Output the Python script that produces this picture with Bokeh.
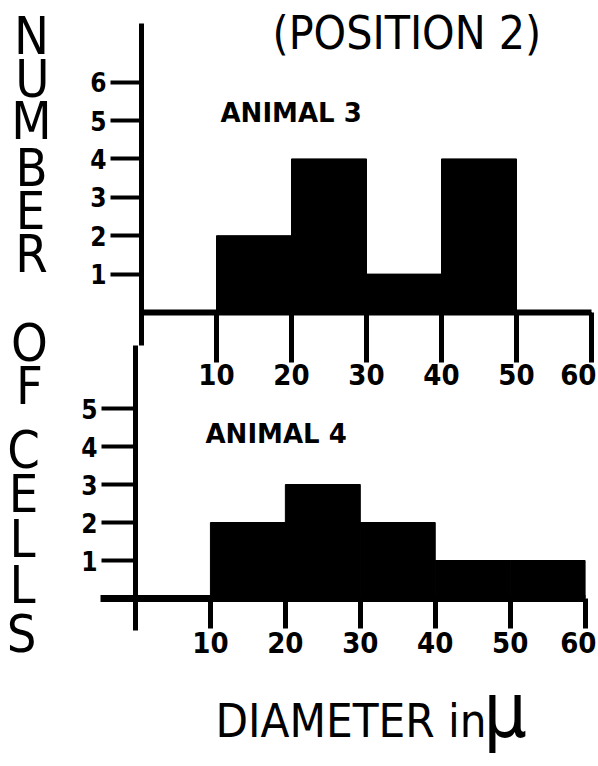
from bokeh.plotting import figure
from bokeh.models import Range1d, LinearAxis, FixedTicker, Label
from bokeh.embed import file_html
from bokeh.resources import INLINE

# ---------------- data ----------------
bin_left = [10, 20, 30, 40, 50]
bin_right = [20, 30, 40, 50, 60]
animal3_counts = [2, 4, 1, 4, 0]
animal4_counts = [2, 3, 2, 1, 1]
x_ticks = [10, 20, 30, 40, 50, 60]
top_y_ticks = [1, 2, 3, 4, 5, 6]
bottom_y_ticks = [1, 2, 3, 4, 5]
title_text = "(POSITION 2)"
panel_titles = ["ANIMAL 3", "ANIMAL 4"]
y_title_letters = list("NUMBER") + list("OF") + list("CELLS")
x_title_main = "DIAMETER in"
x_title_unit = "\u03bc"

# ---------------- layout ----------------
W, H = 596, 764

COND = "'DejaVu Sans Condensed', 'DejaVu Sans', sans-serif"
BOLDF = "'DejaVu Sans', sans-serif"
BASE_K = 0.38  # empirical shift of the rendered baseline (in em)


def make_range(zero_px, px_per_unit, size, flip=False):
    if flip:
        start = -(size - zero_px) / px_per_unit
    else:
        start = -zero_px / px_per_unit
    return Range1d(start, start + size / px_per_unit)


p = figure(width=W, height=H, x_range=Range1d(0, W), y_range=Range1d(H, 0),
           toolbar_location=None, output_backend="svg",
           x_axis_location=None, y_axis_location=None, min_border=0,
           outline_line_color=None, background_fill_color="white",
           border_fill_color="white")
p.grid.grid_line_color = None

p.extra_x_ranges = {
    "tx": make_range(141, 7.5, W),
    "bx": make_range(135, 7.493, W),
}
p.extra_y_ranges = {
    "ty": make_range(312, 38.4, H, flip=True),
    "by": make_range(598, 38.0, H, flip=True),
}

# ---------------- bars ----------------
p.quad(left=bin_left, right=bin_right, top=animal3_counts, bottom=0,
       x_range_name="tx", y_range_name="ty",
       fill_color="black", line_color="black", line_width=1)
p.quad(left=bin_left, right=bin_right, top=animal4_counts, bottom=0,
       x_range_name="bx", y_range_name="by",
       fill_color="black", line_color="black", line_width=1)


def style_axis(ax, tick_out, line_w, tick_w, font, size, standoff):
    ax.major_tick_out = tick_out
    ax.major_tick_in = 0
    ax.minor_tick_out = 0
    ax.minor_tick_in = 0
    ax.axis_line_width = line_w
    ax.axis_line_color = "black"
    ax.major_tick_line_width = tick_w
    ax.major_tick_line_color = "black"
    ax.major_label_text_font = font
    ax.major_label_text_font_size = size
    ax.major_label_text_font_style = "bold"
    ax.major_label_text_color = "black"
    ax.major_label_standoff = standoff


# top panel axes
tx_axis = LinearAxis(x_range_name="tx", y_range_name="ty", fixed_location=0,
                     bounds=(0, 60), ticker=FixedTicker(ticks=x_ticks))
style_axis(tx_axis, 50, 6, 5, COND, "29px", 1)
p.add_layout(tx_axis, "below")

ty_axis = LinearAxis(x_range_name="tx", y_range_name="ty", fixed_location=0,
                     bounds=(-0.86, 7.53), ticker=FixedTicker(ticks=top_y_ticks))
style_axis(ty_axis, 31, 5, 4, COND, "26px", 4)
p.add_layout(ty_axis, "left")

# bottom panel axes
bx_axis = LinearAxis(x_range_name="bx", y_range_name="by", fixed_location=0,
                     bounds=(-4.67, 60), ticker=FixedTicker(ticks=x_ticks))
style_axis(bx_axis, 30, 7, 5, COND, "29px", 3)
p.add_layout(bx_axis, "below")

by_axis = LinearAxis(x_range_name="bx", y_range_name="by", fixed_location=0,
                     bounds=(-0.84, 6.66), ticker=FixedTicker(ticks=bottom_y_ticks))
style_axis(by_axis, 34, 5, 4, COND, "26px", 4)
p.add_layout(by_axis, "left")


# ---------------- texts ----------------
def add_label(x, y_base, text, font, size_px, style="normal", align="left"):
    p.add_layout(Label(x=x, y=y_base - BASE_K * size_px, text=text,
                       text_font=font, text_font_size=f"{size_px}px",
                       text_font_style=style, text_align=align,
                       text_baseline="alphabetic", text_color="black"))


add_label(272, 50, title_text, COND, 46)
add_label(220, 122, panel_titles[0], BOLDF, 26, "bold")
add_label(205, 443, panel_titles[1], BOLDF, 26, "bold")
add_label(215, 738, x_title_main, COND, 47)
add_label(483, 739, x_title_unit, COND, 76)

letter_x = [31, 32, 31, 31, 30, 31, 29, 29, 23, 23, 22, 22, 21]
letter_base = [55, 98, 140, 187, 230, 273, 362, 405, 469, 513, 558, 604, 653]
for ch, lx, lb in zip(y_title_letters, letter_x, letter_base):
    add_label(lx, lb, ch, COND, 52, "normal", "center")

open("out.html", "w").write(file_html(p, INLINE))
